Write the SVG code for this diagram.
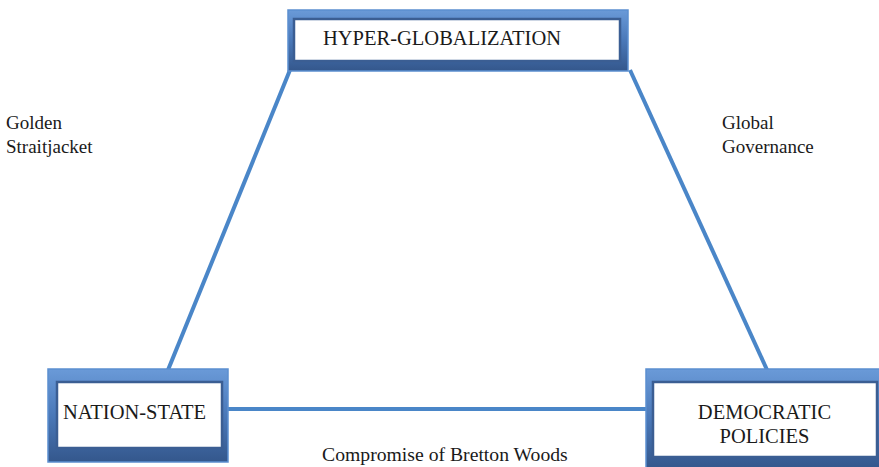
<svg xmlns="http://www.w3.org/2000/svg" width="879" height="467" viewBox="0 0 879 467">
<defs>
<linearGradient id="fr" x1="0" y1="0" x2="0" y2="1">
<stop offset="0" stop-color="#6a9ad8"/>
<stop offset="0.5" stop-color="#4a78b8"/>
<stop offset="1" stop-color="#34578c"/>
</linearGradient>
</defs>
<style>
.frame{fill:url(#fr);stroke:#5b8fd0;stroke-width:1.5}
.inner{fill:#ffffff;stroke:#3b5e93;stroke-width:2.5}
.t{font-family:"Liberation Serif","Times New Roman",serif;font-size:19px;fill:#1a1a1a}
.b{font-size:20.5px}
.c{stroke:#4a86c8;stroke-width:4;fill:none}
</style>
<g id="connectors">
<line class="c" x1="168" y1="370" x2="290" y2="70"/>
<line class="c" x1="630" y1="70" x2="768" y2="372"/>
<line class="c" x1="226" y1="409" x2="648" y2="409"/>
</g>
<g id="hyper-globalization">
<rect class="frame" x="288" y="10" width="340" height="61"/>
<rect class="inner" x="294" y="19" width="326" height="42"/>
<text class="t b" x="323" y="45">HYPER-GLOBALIZATION</text>
</g>
<g id="nation-state">
<rect class="frame" x="48" y="369" width="180" height="93"/>
<rect class="inner" x="57" y="382" width="165" height="66"/>
<text class="t b" x="63" y="419">NATION-STATE</text>
</g>
<g id="democratic-policies">
<rect class="frame" x="646" y="369" width="235" height="100"/>
<rect class="inner" x="653" y="382" width="224" height="75"/>
<text class="t b" x="764.5" y="419" text-anchor="middle">DEMOCRATIC</text>
<text class="t b" x="764.5" y="443" text-anchor="middle">POLICIES</text>
</g>
<g id="labels">
<text class="t" x="6" y="129">Golden</text>
<text class="t" x="6" y="153">Straitjacket</text>
<text class="t" x="722" y="129">Global</text>
<text class="t" x="722" y="153">Governance</text>
<text class="t" x="322" y="461" style="font-size:19.7px">Compromise of Bretton Woods</text>
</g>
</svg>
